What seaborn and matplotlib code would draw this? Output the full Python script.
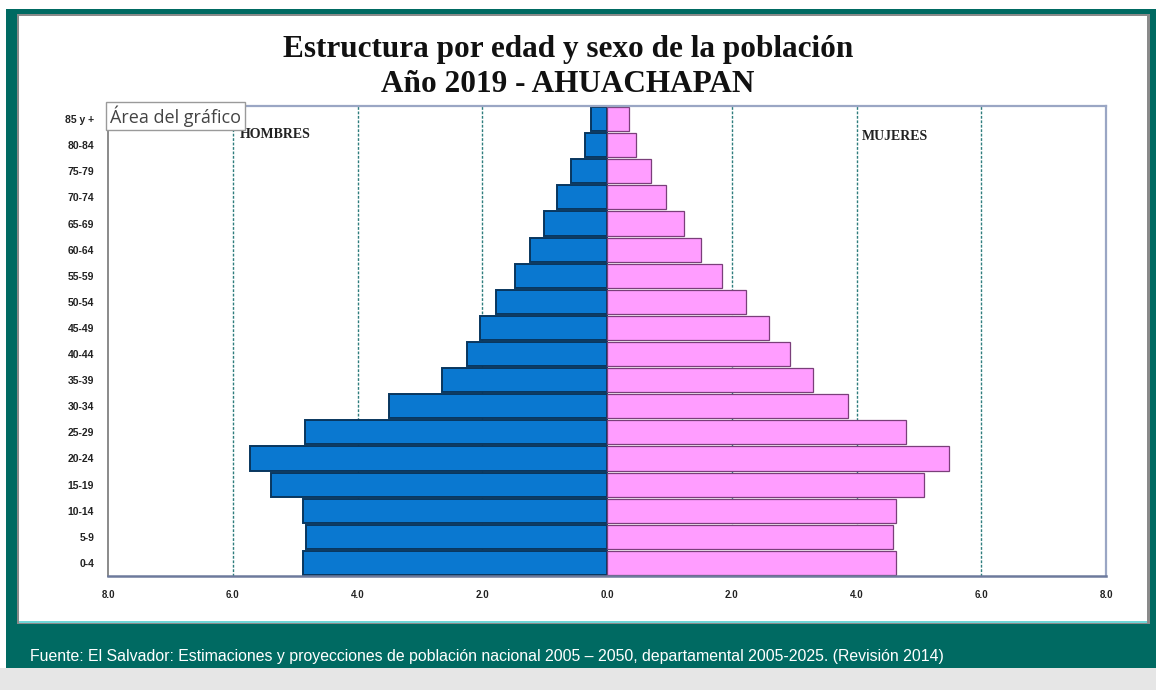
import matplotlib
matplotlib.use("Agg")
import matplotlib.pyplot as plt
import seaborn as sns
import pandas as pd
from matplotlib.patches import Rectangle
from matplotlib.ticker import FixedLocator, FuncFormatter

# ---------------- data ----------------
age_groups = ["0-4", "5-9", "10-14", "15-19", "20-24", "25-29", "30-34", "35-39",
              "40-44", "45-49", "50-54", "55-59", "60-64", "65-69", "70-74",
              "75-79", "80-84", "85 y +"]
hombres = [4.87, 4.82, 4.88, 5.38, 5.73, 4.84, 3.49, 2.65, 2.25, 2.04, 1.78,
           1.48, 1.24, 1.01, 0.80, 0.58, 0.35, 0.26]
mujeres = [4.64, 4.59, 4.63, 5.09, 5.48, 4.80, 3.86, 3.31, 2.94, 2.60, 2.23,
           1.85, 1.51, 1.24, 0.95, 0.71, 0.47, 0.35]
x_ticks = [-8, -6, -4, -2, 0, 2, 4, 6, 8]
grid_x = [-6, -4, -2, 2, 4, 6]

title_1 = "Estructura por edad y sexo de la población"
title_2 = "Año 2019 - AHUACHAPAN"
label_h = "HOMBRES"
label_m = "MUJERES"
tooltip = "Área del gráfico"
fuente = ("Fuente: El Salvador: Estimaciones y proyecciones de población nacional "
          "2005 – 2050, departamental 2005-2025. (Revisión 2014)")

# ---------------- figure ----------------
sns.set_theme(style="white")
plt.rcParams["font.family"] = ["Liberation Sans", "DejaVu Sans"]

W, H = 1156, 690
fig = plt.figure(figsize=(W / 100, H / 100), dpi=100)
fig.patch.set_facecolor("white")


def px_rect(x0, y0, x1, y1, color, z):
    fig.patches.append(Rectangle((x0 / W, 1 - y1 / H), (x1 - x0) / W, (y1 - y0) / H,
                                 transform=fig.transFigure, facecolor=color,
                                 edgecolor="none", zorder=z))


px_rect(0, 668, W, H, "#e6e6e6", -10)
px_rect(6, 9, W, 668, "#006a62", -9)
px_rect(17, 14, 1150, 624, "#8a8a8a", -8)
px_rect(19, 16, 1147, 623, "#6fd8d8", -7)
px_rect(19, 16, 1147, 621, "white", -6)

ax = fig.add_axes([108 / W, (H - 576) / H, (1106 - 108) / W, (576 - 106) / H])
ax.set_facecolor("white")

df = pd.DataFrame({"grupo": age_groups,
                   "hombres": [-v for v in hombres],
                   "mujeres": mujeres})
order = age_groups[::-1]

for g in grid_x:
    ax.axvline(g, color="#2e7d7d", lw=1.0, ls=(0, (2, 1.2)), zorder=0)

sns.barplot(data=df, y="grupo", x="hombres", order=order, orient="h",
            color="#0a78d0", saturation=1, width=0.92, edgecolor="#08365e",
            linewidth=1.4, errorbar=None, ax=ax, zorder=2)
sns.barplot(data=df, y="grupo", x="mujeres", order=order, orient="h",
            color="#ff9dff", saturation=1, width=0.92, edgecolor="#7a3f7a",
            linewidth=0.9, errorbar=None, ax=ax, zorder=2)

ax.set_xlim(-8, 8)
ax.set_ylim(len(age_groups) - 0.5, -0.5)
ax.set_xlabel("")
ax.set_ylabel("")
ax.xaxis.set_major_locator(FixedLocator(x_ticks))
ax.xaxis.set_major_formatter(FuncFormatter(lambda v, p: f"{abs(v):.1f}"))
ax.tick_params(axis="x", direction="out", length=3, width=1, color="#44506e",
               pad=7, labelsize=7)
ax.tick_params(axis="y", direction="out", length=2, width=0.8, color="#44506e",
               pad=8, labelsize=7.5)
for lab in ax.get_xticklabels() + ax.get_yticklabels():
    lab.set_fontweight("bold")
    lab.set_color("#222222")

for side in ["top", "right"]:
    ax.spines[side].set_color("#9aa6c4")
    ax.spines[side].set_linewidth(1.6)
ax.spines["bottom"].set_color("#6d7a9c")
ax.spines["bottom"].set_linewidth(1.8)
ax.spines["left"].set_color("#8a8a8a")
ax.spines["left"].set_linewidth(1.4)

# ---------------- texts ----------------
fig.text(568 / W, 1 - 50 / H, title_1, ha="center", va="center",
         fontsize=22.5, fontweight="bold", family="Liberation Serif", color="#111111")
fig.text(568 / W, 1 - 84 / H, title_2, ha="center", va="center",
         fontsize=22.5, fontweight="bold", family="Liberation Serif", color="#111111")

fig.text(240 / W, 1 - 134 / H, label_h, ha="left", va="center", fontsize=10,
         fontweight="bold", family="Liberation Serif", color="#222222")
fig.text(862 / W, 1 - 137 / H, label_m, ha="left", va="center", fontsize=10,
         fontweight="bold", family="Liberation Serif", color="#222222")

fig.text(110 / W, 1 - 116 / H, tooltip, ha="left", va="center", fontsize=13,
         family="Open Sans", color="#444444", zorder=20,
         bbox=dict(boxstyle="square,pad=0.2", facecolor="white",
                   edgecolor="#9a9a9a", linewidth=1))

fig.text(30 / W, 1 - 656 / H, fuente, ha="left", va="center", fontsize=11.4,
         color="white", family="Liberation Sans")

fig.savefig("out.png", dpi=100)
